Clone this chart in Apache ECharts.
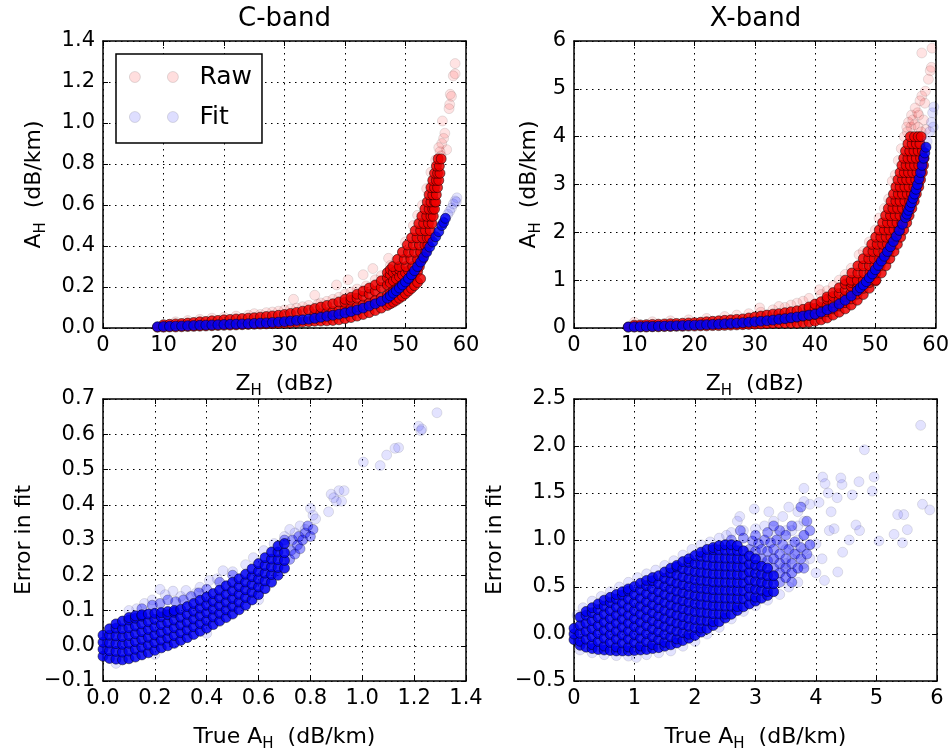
<!DOCTYPE html>
<html><head><meta charset="utf-8">
<script src="https://cdn.jsdelivr.net/npm/echarts@6/dist/echarts.min.js"></script>
<style>html,body{margin:0;padding:0;background:#fff}#c{width:952px;height:753px}</style>
</head><body><div id="c"></div>
<script>
// ---------------- C-band: A_H vs Z_H ----------------
const cFit = [[9,0.006],[10,0.007],[11,0.008],[12,0.009],[13,0.01],[14,0.011],[15,0.012],[16,0.013],[17,0.014],[18,0.015],[19,0.016],[20,0.017],[21,0.018],[22,0.019],[23,0.02],[24,0.021],[25,0.022],[26,0.024],[27,0.025],[28,0.027],[29,0.029],[30,0.031],[31,0.034],[32,0.037],[33,0.04],[34,0.043],[35,0.047],[36,0.052],[37,0.057],[38,0.062],[39,0.067],[40,0.073],[41,0.08],[42,0.088],[43,0.097],[44,0.107],[45,0.118],[46,0.13],[47,0.145],[47.5,0.157],[48,0.17],[48.5,0.182],[49,0.195],[49.5,0.21],[50,0.225],[50.5,0.242],[51,0.26],[51.5,0.28],[52,0.3],[52.5,0.322],[53,0.345],[53.5,0.37],[54,0.395],[54.5,0.42],[55,0.445],[55.5,0.47],[56,0.5],[56.3,0.515],[56.6,0.535]];
const cFitSparse = [[57.0,0.555],[57.3,0.57],[57.6,0.585],[57.9,0.605],[58.2,0.62],[58.5,0.635],[58.4,0.615]];
const cRawCols = [[9,0.004],[10,0.004,0.016],[11,0.005,0.018],[12,0.005,0.02],[13,0.006,0.022],[14,0.007,0.024],[15,0.008,0.027],[16,0.009,0.03],[17,0.01,0.032],[18,0.011,0.035],[19,0.012,0.037],[20,0.013,0.04],[21,0.014,0.042],[22,0.015,0.044],[23,0.016,0.046],[24,0.017,0.048],[25,0.018,0.05],[26,0.019,0.053],[27,0.02,0.056],[28,0.021,0.059],[29,0.022,0.062],[30,0.023,0.066],[31,0.025,0.071],[32,0.027,0.076],[33,0.029,0.082],[34,0.031,0.088],[35,0.033,0.065,0.095],[36,0.034,0.07,0.102],[37,0.035,0.075,0.11],[38,0.037,0.08,0.118],[39,0.04,0.085,0.127],[40,0.045,0.09,0.125,0.14],[41,0.051,0.097,0.135,0.15],[42,0.058,0.105,0.145,0.165],[43,0.066,0.113,0.155,0.18],[44,0.075,0.122,0.165,0.195],[45,0.085,0.135,0.18,0.21],[46,0.097,0.148,0.197,0.23],[47,0.11,0.16,0.21,0.245,0.27],[47.5,0.118,0.17,0.22,0.26,0.285],[48,0.126,0.18,0.23,0.27],[48.5,0.135,0.19,0.24,0.28],[49,0.145,0.2,0.25,0.285],[49.5,0.155,0.21,0.26],[50,0.167,0.22,0.27],[50.5,0.18,0.235,0.28],[51,0.193,0.245],[51.5,0.207,0.26],[52,0.222,0.275],[52.5,0.24]];
const cRawRows = [[0.30,47.9,49.0,50.1,51.2,52.3],[0.335,48.7,49.8,50.9,52.0,52.8],[0.37,49.5,50.5,51.5,52.5,53.3],[0.405,50.3,51.3,52.3,53.2,53.7],[0.44,51.0,51.9,52.8,53.6,54.0],[0.475,51.6,52.5,53.3,54.1],[0.51,52.2,53.0,53.8,54.4],[0.545,52.7,53.5,54.2,54.6],[0.58,53.2,53.9,54.5,54.8],[0.615,53.6,54.2,54.8,55.0],[0.65,53.9,54.5,55.1],[0.685,54.2,54.8,55.3],[0.72,54.5,55.1,55.5],[0.755,54.8,55.3,55.7],[0.79,55.1,55.6],[0.825,55.4,55.9]];
const cRawSparse = [[12,0.03],[14,0.036],[16,0.042],[18,0.048],[20,0.052],[22,0.058],[24,0.062],[25,0.07],[26,0.066],[27,0.075],[28,0.078],[29,0.082],[30,0.088],[31,0.092],[31.5,0.14],[32,0.097],[33,0.104],[34,0.11],[35,0.16],[35.5,0.115],[36,0.122],[37,0.13],[38,0.14],[38.6,0.21],[39,0.15],[40,0.165],[40.5,0.235],[41,0.175],[42,0.19],[43,0.26],[43.5,0.205],[44.6,0.29],[45,0.235],[46,0.255],[47.2,0.34],[47.5,0.305],[48.5,0.33],[49.5,0.37],[50,0.42],[51.3,0.5],[52,0.55],[52.8,0.6],[53.5,0.68],[54.2,0.76],[55,0.82],[55.7,0.86],[56,0.9],[56.3,0.925],[56.1,1.01],[57.3,1.09],[57.4,1.14],[57.6,1.13],[57.2,1.07],[57.9,1.23],[58.2,1.24],[58.2,1.29],[56.5,0.95],[56.8,0.87],[55.5,0.88],[55.9,0.84]];

// ---------------- X-band: A_H vs Z_H ----------------
const xFit = [[9,0.02],[10,0.025],[11,0.028],[12,0.03],[13,0.033],[14,0.036],[15,0.04],[16,0.043],[17,0.047],[18,0.05],[19,0.055],[20,0.06],[21,0.065],[22,0.07],[23,0.075],[24,0.08],[25,0.087],[26,0.094],[27,0.1],[28,0.11],[29,0.12],[30,0.13],[31,0.14],[32,0.152],[33,0.165],[34,0.18],[35,0.195],[36,0.212],[37,0.23],[38,0.25],[39,0.27],[40,0.29],[41,0.33],[42,0.38],[43,0.43],[44,0.5],[45,0.58],[46,0.67],[47,0.78],[47.5,0.84],[48,0.9],[48.5,0.97],[49,1.05],[49.5,1.13],[50,1.22],[50.5,1.31],[51,1.4],[51.5,1.5],[52,1.6],[52.5,1.7],[53,1.81],[53.5,1.92],[54,2.04],[54.5,2.17],[55,2.31],[55.25,2.38],[55.5,2.46],[55.75,2.54],[56,2.62],[56.25,2.71],[56.5,2.8],[56.75,2.9],[57,3.0],[57.25,3.12],[57.5,3.25],[57.75,3.4],[58,3.55],[58.2,3.66],[58.4,3.78]];
const xFitSparse = [[58.6,3.9],[59.0,4.1],[59.3,4.3],[59.5,4.5],[59.7,4.62],[59.6,4.2]];
const xRawCols = [[9,0.02],[10,0.02,0.06],[11,0.02,0.065],[12,0.02,0.07],[13,0.025,0.075],[14,0.025,0.08],[15,0.03,0.085],[16,0.03,0.09],[17,0.035,0.095],[18,0.035,0.1],[19,0.04,0.105],[20,0.04,0.11],[21,0.045,0.12],[22,0.045,0.13],[23,0.05,0.14],[24,0.05,0.15],[25,0.055,0.16],[26,0.06,0.17],[27,0.065,0.18],[28,0.07,0.19],[29,0.075,0.21],[30,0.08,0.23],[31,0.085,0.25],[32,0.09,0.27],[33,0.095,0.29],[34,0.1,0.2,0.3],[35,0.1,0.21,0.32],[36,0.1,0.22,0.34],[37,0.1,0.23,0.36],[38,0.11,0.25,0.39],[39,0.12,0.26,0.4,0.44],[40,0.14,0.28,0.41,0.5],[41,0.17,0.3,0.43,0.55],[42,0.21,0.34,0.47,0.6,0.65],[43,0.27,0.4,0.53,0.66,0.74],[44,0.33,0.46,0.59,0.72,0.84],[45,0.4,0.53,0.66,0.79,0.92],[46,0.48,0.61,0.74,0.87,0.95],[47,0.58,0.71,0.84,0.95],[48,0.7,0.83,0.95],[49,0.83,0.95],[50,0.98]];
const xRawRows = [[1.00,45.0,46.0,47.0,48.0,49.0,50.1],[1.15,46.1,47.1,48.1,49.1,50.1,51.0],[1.30,47.1,48.0,49.0,49.9,50.8,51.75],[1.45,48.0,48.9,49.8,50.7,51.6,52.4],[1.60,48.75,49.6,50.5,51.4,52.3,53.1],[1.75,49.4,50.3,51.2,52.0,52.8,53.65],[1.90,50.05,50.9,51.8,52.6,53.4,54.2],[2.05,50.65,51.5,52.3,53.1,53.9,54.7],[2.20,51.2,52.0,52.8,53.6,54.4,55.2],[2.35,51.7,52.5,53.3,54.1,54.9,55.6],[2.50,52.15,52.9,53.7,54.5,55.3,56.05],[2.65,52.6,53.4,54.1,54.9,55.7,56.45],[2.80,53.0,53.8,54.5,55.3,56.0,56.8],[2.95,53.4,54.1,54.9,55.6,56.4,57.2],[3.10,53.75,54.5,55.2,55.9,56.7,57.5],[3.25,54.1,54.8,55.5,56.2,56.9,57.8],[3.40,54.4,55.1,55.8,56.5,57.2,58.0],[3.55,54.7,55.4,56.1,56.8,57.5,58.1],[3.70,55.0,55.7,56.4,57.1,57.8],[3.85,55.4,56.1,56.8,57.4],[4.00,55.8,56.5,57.1,57.6]];
const xRawSparse = [[10,0.12],[13,0.13],[16,0.15],[19,0.17],[22,0.2],[25,0.24],[27,0.27],[29,0.3],[30.8,0.42],[31,0.33],[33,0.38],[34,0.45],[35,0.43],[36,0.48],[37,0.52],[38,0.56],[39,0.62],[40.7,0.8],[41,0.7],[42,0.78],[43,0.88],[44,1.0],[45,1.12],[46,1.25],[47.3,1.53],[48,1.6],[49,1.8],[50,2.05],[50.6,2.3],[51.5,2.5],[52.2,2.7],[52.8,3.07],[53.3,3.2],[53.8,3.5],[54.3,3.75],[54.8,4.0],[55.2,4.2],[55.5,4.3],[56,4.45],[56.6,4.6],[57.2,4.45],[57.7,4.85],[57.4,4.75],[58.3,4.95],[58.8,5.2],[59.1,5.38],[59.3,5.45],[57.7,5.75],[59.4,5.85],[58.2,4.7],[55.9,4.2],[56.5,4.25],[57.1,4.2],[57.6,4.1],[56.2,4.35],[57.0,4.5],[55.3,4.1],[58.0,4.35],[58.4,4.15]];

// ---------------- C-band: error in fit vs true A_H ----------------
const cErrCols = [[0.0,-0.03,-0.01,0.01,0.03],[0.025,-0.036,-0.014,0.008,0.03,0.048],[0.05,-0.038,-0.016,0.006,0.028,0.05,0.062],[0.075,-0.04,-0.018,0.004,0.026,0.048,0.07],[0.1,-0.037,-0.015,0.007,0.029,0.051,0.073,0.08],[0.125,-0.032,-0.01,0.012,0.034,0.056,0.078,0.085],[0.15,-0.026,-0.004,0.018,0.04,0.062,0.084,0.088],[0.175,-0.02,0.002,0.024,0.046,0.068,0.09],[0.2,-0.013,0.009,0.031,0.053,0.075,0.092],[0.225,-0.006,0.016,0.038,0.06,0.082,0.094],[0.25,0.0,0.022,0.044,0.066,0.088,0.097],[0.275,0.007,0.029,0.051,0.073,0.095,0.1],[0.3,0.015,0.037,0.059,0.081,0.103],[0.325,0.023,0.045,0.067,0.089,0.111],[0.35,0.032,0.054,0.076,0.098,0.12],[0.375,0.041,0.063,0.085,0.107,0.129],[0.4,0.05,0.072,0.094,0.116,0.138],[0.425,0.06,0.082,0.104,0.126,0.148],[0.45,0.07,0.092,0.114,0.136,0.158],[0.475,0.08,0.102,0.124,0.146,0.17],[0.5,0.09,0.112,0.134,0.156,0.18],[0.525,0.102,0.124,0.146,0.168,0.19],[0.55,0.115,0.137,0.159,0.181,0.203],[0.575,0.13,0.152,0.174,0.196,0.218],[0.6,0.145,0.167,0.189,0.211,0.233],[0.625,0.162,0.184,0.206,0.228,0.25],[0.65,0.18,0.202,0.224,0.246,0.266],[0.675,0.2,0.222,0.244,0.266,0.283],[0.7,0.22,0.242,0.264,0.29]];
const cErrMid = [[0.7,0.3],[0.72,0.245],[0.725,0.27],[0.73,0.3],[0.74,0.26],[0.75,0.285],[0.755,0.31],[0.76,0.275],[0.77,0.3],[0.78,0.32],[0.79,0.34],[0.8,0.31],[0.81,0.33],[0.22,0.12],[0.25,0.13],[0.28,0.125],[0.31,0.13],[0.34,0.14],[0.37,0.15],[0.4,0.16],[0.45,0.18],[0.5,0.2],[0.15,0.105],[0.19,0.115]];
const cErrSparse = [[0.05,-0.05],[0.2,-0.025],[0.4,0.035],[0.6,0.13],[0.1,0.1],[0.13,0.105],[0.16,0.12],[0.19,0.13],[0.22,0.16],[0.24,0.145],[0.27,0.155],[0.3,0.14],[0.32,0.157],[0.36,0.15],[0.374,0.166],[0.41,0.185],[0.44,0.19],[0.463,0.213],[0.5,0.21],[0.55,0.23],[0.58,0.25],[0.62,0.27],[0.66,0.29],[0.7,0.31],[0.72,0.33],[0.74,0.32],[0.76,0.34],[0.77,0.3],[0.78,0.33],[0.8,0.39],[0.81,0.37],[0.82,0.36],[0.87,0.38],[0.88,0.43],[0.89,0.42],[0.9,0.41],[0.91,0.44],[0.92,0.41],[0.93,0.44],[1.004,0.521],[1.069,0.511],[1.094,0.541],[1.126,0.56],[1.14,0.562],[1.217,0.623],[1.226,0.61],[1.23,0.615],[1.288,0.661]];

// ---------------- X-band: error in fit vs true A_H ----------------
const xErrCols = [[0.0,-0.06,0.0,0.06],[0.1,-0.12,-0.078,0.007,0.092,0.18],[0.2,-0.14,-0.055,0.03,0.115,0.2,0.24],[0.3,-0.155,-0.113,-0.028,0.057,0.142,0.227,0.28],[0.4,-0.165,-0.08,0.005,0.09,0.175,0.26,0.32],[0.5,-0.17,-0.128,-0.043,0.042,0.127,0.212,0.297,0.36],[0.6,-0.175,-0.09,-0.005,0.08,0.165,0.25,0.335,0.39],[0.7,-0.18,-0.138,-0.053,0.032,0.117,0.202,0.287,0.372,0.42],[0.8,-0.18,-0.095,-0.01,0.075,0.16,0.245,0.33,0.415,0.45],[0.9,-0.18,-0.138,-0.053,0.032,0.117,0.202,0.287,0.372,0.457,0.48],[1.0,-0.175,-0.09,-0.005,0.08,0.165,0.25,0.335,0.42,0.505],[1.1,-0.17,-0.128,-0.043,0.042,0.127,0.212,0.297,0.382,0.467,0.54],[1.2,-0.165,-0.08,0.005,0.09,0.175,0.26,0.345,0.43,0.515,0.57],[1.3,-0.155,-0.113,-0.028,0.057,0.142,0.227,0.312,0.397,0.482,0.567,0.6],[1.4,-0.145,-0.06,0.025,0.11,0.195,0.28,0.365,0.45,0.535,0.62],[1.5,-0.13,-0.088,-0.003,0.082,0.167,0.252,0.337,0.422,0.507,0.592,0.66],[1.6,-0.115,-0.03,0.055,0.14,0.225,0.31,0.395,0.48,0.565,0.65,0.7],[1.7,-0.095,-0.053,0.032,0.117,0.202,0.287,0.372,0.457,0.542,0.627,0.712,0.73],[1.8,-0.07,0.015,0.1,0.185,0.27,0.355,0.44,0.525,0.61,0.695,0.77],[1.9,-0.045,-0.003,0.082,0.167,0.252,0.337,0.422,0.507,0.592,0.677,0.762,0.8],[2.0,-0.015,0.07,0.155,0.24,0.325,0.41,0.495,0.58,0.665,0.75,0.835],[2.1,0.02,0.062,0.147,0.232,0.317,0.402,0.487,0.572,0.657,0.742,0.827,0.87],[2.2,0.055,0.14,0.225,0.31,0.395,0.48,0.565,0.65,0.735,0.82,0.9],[2.3,0.09,0.132,0.217,0.302,0.387,0.472,0.557,0.642,0.727,0.812,0.897,0.92],[2.4,0.13,0.215,0.3,0.385,0.47,0.555,0.64,0.725,0.81,0.895,0.94],[2.5,0.17,0.212,0.297,0.382,0.467,0.552,0.637,0.722,0.807,0.892,0.95],[2.6,0.21,0.295,0.38,0.465,0.55,0.635,0.72,0.805,0.89,0.95],[2.7,0.25,0.292,0.377,0.462,0.547,0.632,0.717,0.802,0.887,0.94],[2.8,0.29,0.375,0.46,0.545,0.63,0.715,0.8,0.885],[2.9,0.32,0.405,0.49,0.575,0.66,0.745,0.83],[3.0,0.35,0.392,0.477,0.562,0.647,0.732,0.8],[3.1,0.38,0.465,0.55,0.635,0.72],[3.2,0.41,0.452,0.537,0.622,0.7],[3.3,0.45,0.535,0.62]];
const xErrMid = [[2.9,0.9],[2.95,0.99],[3.0,0.88],[3.05,0.96],[3.1,0.8],[3.1,0.9],[3.15,1.0],[3.2,0.78],[3.2,0.88],[3.25,0.97],[3.3,0.7],[3.3,0.8],[3.3,0.9],[3.35,1.0],[3.4,0.55],[3.4,0.65],[3.4,0.75],[3.4,0.85],[3.45,0.95],[3.5,0.6],[3.5,0.7],[3.5,0.8],[3.55,0.9],[3.6,0.65],[3.6,0.75],[3.65,0.85],[3.65,0.98],[3.7,0.7],[3.75,0.8],[3.75,0.92],[3.8,1.05],[3.85,0.85],[3.9,0.95],[3.85,1.2],[3.75,1.35],[3.6,1.15],[3.4,1.1],[3.2,1.08],[3.0,1.05],[2.8,1.02],[2.6,1.0],[2.75,1.1],[3.6,0.55],[3.8,0.7],[3.5,1.05],[3.3,1.15],[3.9,1.1]];
const xErrSparse = [[0.05,0.2],[0.15,0.28],[0.3,0.35],[0.45,0.4],[0.6,0.45],[0.75,0.5],[0.9,0.55],[1.05,0.6],[1.2,0.64],[1.35,0.68],[1.5,0.73],[1.65,0.78],[1.8,0.84],[1.95,0.9],[2.1,0.95],[2.25,0.98],[2.4,1.02],[2.52,1.05],[2.6,1.08],[2.7,1.2],[2.74,1.25],[2.8,1.1],[2.98,1.33],[3.0,1.12],[3.15,1.15],[3.22,1.3],[3.3,1.2],[3.45,1.25],[3.5,1.1],[0.1,-0.17],[0.3,-0.2],[0.5,-0.22],[0.7,-0.23],[0.9,-0.235],[1.03,-0.25],[1.2,-0.22],[1.4,-0.2],[1.6,-0.18],[1.8,-0.13],[2.0,-0.08],[2.2,0.0],[2.4,0.07],[2.6,0.16],[2.8,0.24],[3.0,0.3],[3.2,0.36],[3.4,0.42],[3.55,0.5],[3.7,0.55],[3.5,0.6],[3.5,0.75],[3.5,0.9],[3.6,0.65],[3.6,0.8],[3.6,0.95],[3.6,1.1],[3.7,0.7],[3.7,0.85],[3.7,1.0],[3.7,1.15],[3.7,1.3],[3.8,0.75],[3.8,0.9],[3.8,1.05],[3.8,1.2],[3.8,1.41],[3.9,0.8],[3.9,0.95],[3.9,1.38],[3.8,1.55],[3.55,1.35],[3.35,1.05],[3.45,0.7],[3.25,0.6],[3.3,0.8],[3.1,0.55],[3.15,0.75],[2.95,0.5],[2.9,0.7],[4.11,1.67],[4.15,1.6],[4.2,1.5],[4.41,1.66],[4.43,1.59],[4.35,1.45],[4.71,1.62],[4.6,1.48],[4.96,1.67],[4.93,1.52],[4.8,1.96],[5.73,2.22],[5.76,1.38],[5.88,1.32],[5.35,1.27],[5.45,1.27],[5.51,1.11],[5.29,1.06],[5.43,0.97],[5.04,0.99],[4.44,0.87],[4.36,0.66],[4.14,0.57],[4.66,1.16],[4.72,1.1],[4.22,1.1],[4.3,1.12],[4.0,0.96],[4.55,1.0],[4.05,1.4],[4.1,0.8],[4.0,0.65],[4.25,1.3]];

// ---------------- text ----------------
const titles = ['C-band', 'X-band'];
const legendNames = ['Raw', 'Fit'];

// ---------------- build ----------------
const FONT = "'DejaVu Sans', sans-serif";
function fromCols(cols){const o=[];cols.forEach(c=>{for(let i=1;i<c.length;i++)o.push([c[0],c[i]]);});return o;}
function fromRows(rows){const o=[];rows.forEach(r=>{for(let i=1;i<r.length;i++)o.push([r[i],r[0]]);});return o;}

const redCore = {color:'rgba(240,0,0,0.85)', borderColor:'rgba(0,0,0,0.55)', borderWidth:0.9, opacity:1};
const redHalo = {color:'rgba(255,0,0,0.11)', borderColor:'rgba(0,0,0,0.13)', borderWidth:0.8, opacity:1};
const blueCore = {color:'rgba(0,0,245,0.86)', borderColor:'rgba(0,0,0,0.55)', borderWidth:0.9, opacity:1};
const blueMid = {color:'rgba(0,0,255,0.38)', borderColor:'rgba(0,0,0,0.3)', borderWidth:0.8, opacity:1};
const blueHalo = {color:'rgba(0,0,255,0.11)', borderColor:'rgba(0,0,0,0.13)', borderWidth:0.8, opacity:1};

function sc(name, g, data, style){
  return {type:'scatter', name, xAxisIndex:g, yAxisIndex:g, data, symbol:'circle', symbolSize:10,
    itemStyle:style, silent:true, clip:true, progressive:0, emphasis:{disabled:true}, animation:false};
}
const RICH = {
  n:{fontSize:22, fontFamily:FONT, color:'#000', lineHeight:30, verticalAlign:'middle'},
  s:{fontSize:15, fontFamily:FONT, color:'#000', verticalAlign:'bottom', lineHeight:15}
};
function fmt1(v){ return (Math.round(v*10)/10).toFixed(1).replace('-', '\u2212'); }
function fmt0(v){ return String(Math.round(v)).replace('-', '\u2212'); }
const gridLine = {show:true, lineStyle:{color:'#000', width:1, type:[1.5,4.5]}};
function mainAxis(g, pos, min, max, interval, fmt, name, gap){
  const isY = pos==='left';
  return {gridIndex:g, type:'value', position:pos, min, max, interval,
    axisLine:{show:true, onZero:false, lineStyle:{color:'#000', width:1.5}},
    axisTick:{show:true, inside:true, length:5, lineStyle:{color:'#000', width:1}},
    axisLabel:{fontSize:21, fontFamily:FONT, color:'#000', margin:isY?8:7, formatter:fmt, showMinLabel:true, showMaxLabel:true},
    splitLine:gridLine, name, nameLocation:'middle', nameGap:gap, nameRotate:isY?90:0,
    nameTextStyle:{fontSize:22, fontFamily:FONT, color:'#000', rich:RICH}};
}
function mirrorAxis(g, pos, min, max, interval){
  return {gridIndex:g, type:'value', position:pos, min, max, interval, z:3,
    axisLine:{show:true, onZero:false, lineStyle:{color:'#000', width:1.5}},
    axisTick:{show:true, inside:true, length:5, lineStyle:{color:'#000', width:1}},
    axisLabel:{show:false}, splitLine:{show:false}};
}
const zName = '{n|Z}{s|H}{n|  (dBz)}';
const aName = '{n|A}{s|H}{n|  (dB/km)}';
const tName = '{n|True A}{s|H}{n|  (dB/km)}';
const eName = '{n|Error in fit}';

const axes = [
  [0,60,10,fmt0, 0,1.4,0.2,fmt1, zName, aName, 54],
  [0,60,10,fmt0, 0,6,1,fmt0, zName, aName, 30],
  [0,1.4,0.2,fmt1, -0.1,0.7,0.1,fmt1, tName, eName, 64],
  [0,6,1,fmt0, -0.5,2.5,0.5,fmt1, tName, eName, 64]
];
const xAxis=[], yAxis=[];
axes.forEach((a,g)=>{ xAxis.push(mainAxis(g,'bottom',a[0],a[1],a[2],a[3],a[8],41)); yAxis.push(mainAxis(g,'left',a[4],a[5],a[6],a[7],a[9],a[10])); });
axes.forEach((a,g)=>{ xAxis.push(mirrorAxis(g,'top',a[0],a[1],a[2])); yAxis.push(mirrorAxis(g,'right',a[4],a[5],a[6])); });

const series = [
  sc('Raw',0,cRawSparse,redHalo), sc('Raw',0,fromCols(cRawCols).concat(fromRows(cRawRows)),redCore),
  sc('Fit',0,cFit,blueCore), sc('Fit',0,cFitSparse,blueHalo),
  sc('Raw',1,xRawSparse,redHalo), sc('Raw',1,fromCols(xRawCols).concat(fromRows(xRawRows)),redCore),
  sc('Fit',1,xFit,blueCore), sc('Fit',1,xFitSparse,blueHalo),
  sc('Error C',2,cErrSparse,blueHalo), sc('Error C',2,cErrMid,blueMid), sc('Error C',2,fromCols(cErrCols),blueCore),
  sc('Error X',3,xErrSparse,blueHalo), sc('Error X',3,xErrMid,blueMid), sc('Error X',3,fromCols(xErrCols),blueCore)
];

const LEG_ICON = 'path://M0,5.5a5.5,5.5 0 1,0 11,0a5.5,5.5 0 1,0 -11,0M38,5.5a5.5,5.5 0 1,0 11,0a5.5,5.5 0 1,0 -11,0';
const option = {
  animation:false,
  backgroundColor:'#fff',
  title: titles.map((t,i)=>({text:t, left: i===0?284.5:755.5, top:6, textAlign:'center', padding:0,
    textStyle:{fontSize:26, fontWeight:'normal', fontFamily:FONT, color:'#000'}})),
  legend:{left:116, top:54, orient:'vertical', padding:[8,10,11,13], itemGap:10, itemWidth:49, itemHeight:11,
    borderColor:'#000', borderWidth:1.5, backgroundColor:'#fff', icon:LEG_ICON, selectedMode:false,
    textStyle:{fontSize:25, fontFamily:FONT, color:'#000', lineHeight:30, padding:[0,0,0,16]},
    data:[{name:legendNames[0], itemStyle:{color:'rgba(255,0,0,0.13)', borderColor:'rgba(0,0,0,0.15)', borderWidth:0.8, opacity:1}},
          {name:legendNames[1], itemStyle:{color:'rgba(0,0,255,0.13)', borderColor:'rgba(0,0,0,0.15)', borderWidth:0.8, opacity:1}}]},
  grid:[
    {left:103, top:41, width:363, height:287},
    {left:574, top:41, width:363, height:287},
    {left:103, top:399, width:363, height:286},
    {left:574, top:399, width:363, height:286}
  ],
  xAxis, yAxis, series
};
const chart = echarts.init(document.getElementById('c'), null, {renderer:'canvas'});
chart.setOption(option);
</script></body></html>
